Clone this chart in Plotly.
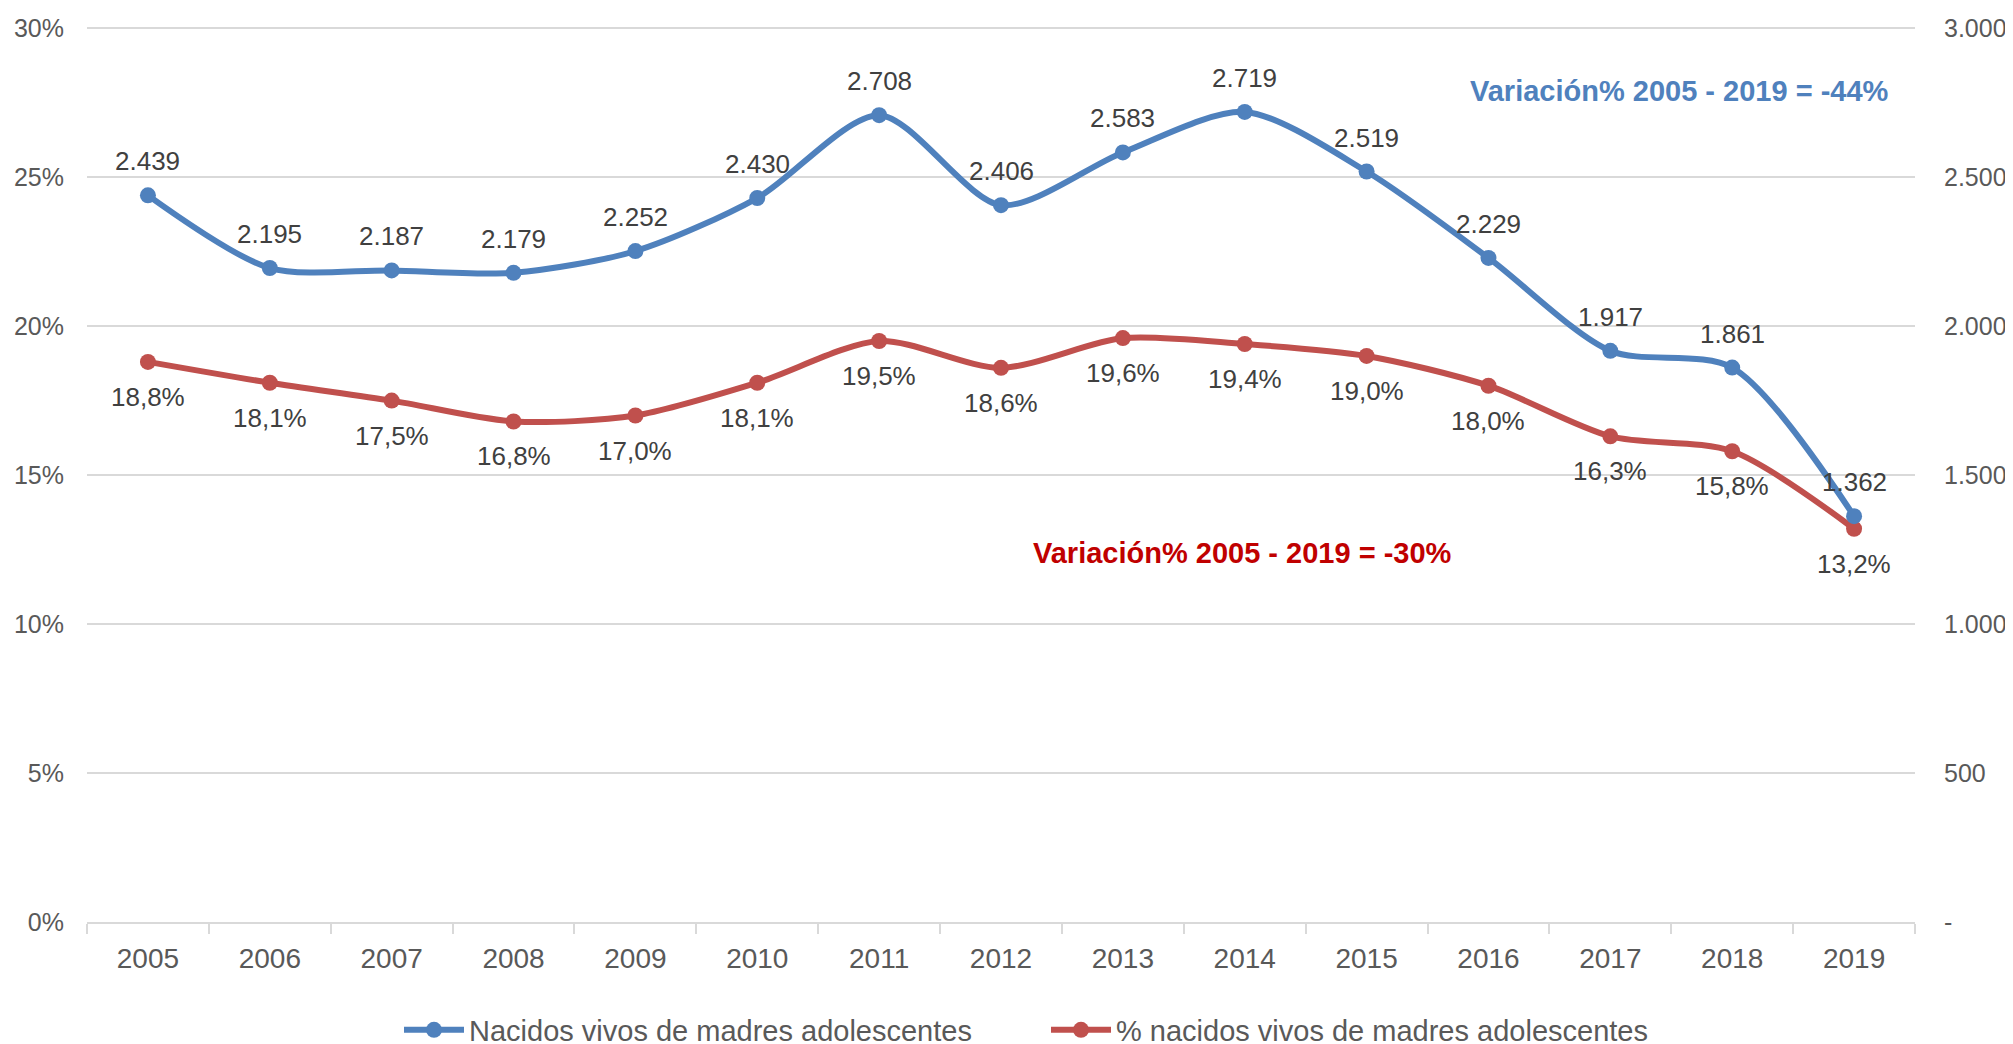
import plotly.graph_objects as go

years = [str(y) for y in range(2005, 2020)]
nacidos = [2439, 2195, 2187, 2179, 2252, 2430, 2708, 2406, 2583, 2719, 2519, 2229, 1917, 1861, 1362]
porcentaje = [18.8, 18.1, 17.5, 16.8, 17.0, 18.1, 19.5, 18.6, 19.6, 19.4, 19.0, 18.0, 16.3, 15.8, 13.2]
left_ticks = [0, 5, 10, 15, 20, 25, 30]
left_labels = ["0%", "5%", "10%", "15%", "20%", "25%", "30%"]
right_ticks = [0, 500, 1000, 1500, 2000, 2500, 3000]
right_labels = ["-", "500", "1.000", "1.500", "2.000", "2.500", "3.000"]

BLUE = "#4F81BD"
RED = "#C0504D"
FONT = "Arial, Liberation Sans, sans-serif"
TXT = "#404040"

W, H = 2005, 1036

fig = go.Figure()
fig.add_trace(go.Scatter(
    x=years, y=nacidos, name="Nacidos vivos de madres adolescentes",
    mode="lines+markers", yaxis="y2",
    line=dict(color=BLUE, width=6, shape="spline", smoothing=0.8),
    marker=dict(color=BLUE, size=16),
))
fig.add_trace(go.Scatter(
    x=years, y=porcentaje, name="% nacidos vivos de madres adolescentes",
    mode="lines+markers", yaxis="y",
    line=dict(color=RED, width=6, shape="spline", smoothing=0.8),
    marker=dict(color=RED, size=16),
))

anns = []
for i, v in enumerate(nacidos):
    anns.append(dict(x=i, y=v, xref="x", yref="y2", text=f"{v:,}".replace(",", "."),
                     showarrow=False, yshift=34, font=dict(size=26, color=TXT, family=FONT)))
for i, v in enumerate(porcentaje):
    anns.append(dict(x=i, y=v, xref="x", yref="y", text=f"{v:.1f}%".replace(".", ","),
                     showarrow=False, yshift=-35, font=dict(size=26, color=TXT, family=FONT)))
anns.append(dict(x=0.987, y=0.9285, xref="paper", yref="paper", xanchor="right", yanchor="middle",
                 text="<b>Variación% 2005 - 2019 = -44%</b>", showarrow=False,
                 font=dict(size=29, color=BLUE, family=FONT)))
anns.append(dict(x=0.632, y=0.412, xref="paper", yref="paper", xanchor="center", yanchor="middle",
                 text="<b>Variación% 2005 - 2019 = -30%</b>", showarrow=False,
                 font=dict(size=29, color="#C00000", family=FONT)))

fig.update_layout(
    width=W, height=H,
    margin=dict(l=79, r=98, t=19, b=122, autoexpand=False),
    paper_bgcolor="white", plot_bgcolor="white",
    font=dict(family=FONT, size=25, color="#595959"),
    showlegend=True,
    legend=dict(orientation="h", x=(1046 - 8) / W, xanchor="center", xref="container",
                y=1 - (1030 - 8) / H, yanchor="middle", yref="container",
                font=dict(size=29, color="#595959"), itemwidth=60, traceorder="normal",
                entrywidth=572, entrywidthmode="pixels"),
    xaxis=dict(type="category", range=[-0.5, len(years) - 0.5], autorange=False,
               showline=True, linecolor="#D9D9D9", linewidth=2, automargin=False,
               ticks="outside", tickson="boundaries", ticklen=10, tickcolor="#D9D9D9", tickwidth=2,
               showgrid=False, tickfont=dict(size=28, color="#595959"), tickangle=0,
               ticklabelstandoff=10),
    yaxis=dict(range=[0, 30.04], tickvals=left_ticks, ticktext=left_labels, showgrid=True,
               gridcolor="#D9D9D9", gridwidth=2, zeroline=False, showline=False, automargin=False,
               tickfont=dict(size=25, color="#595959"), ticklabelstandoff=22),
    yaxis2=dict(range=[0, 3004], tickvals=right_ticks, ticktext=right_labels, overlaying="y",
                side="right", showgrid=False, zeroline=False, showline=False, automargin=False,
                tickfont=dict(size=25, color="#595959"), ticklabelstandoff=28),
    annotations=anns,
)

fig.write_html("out.html")
